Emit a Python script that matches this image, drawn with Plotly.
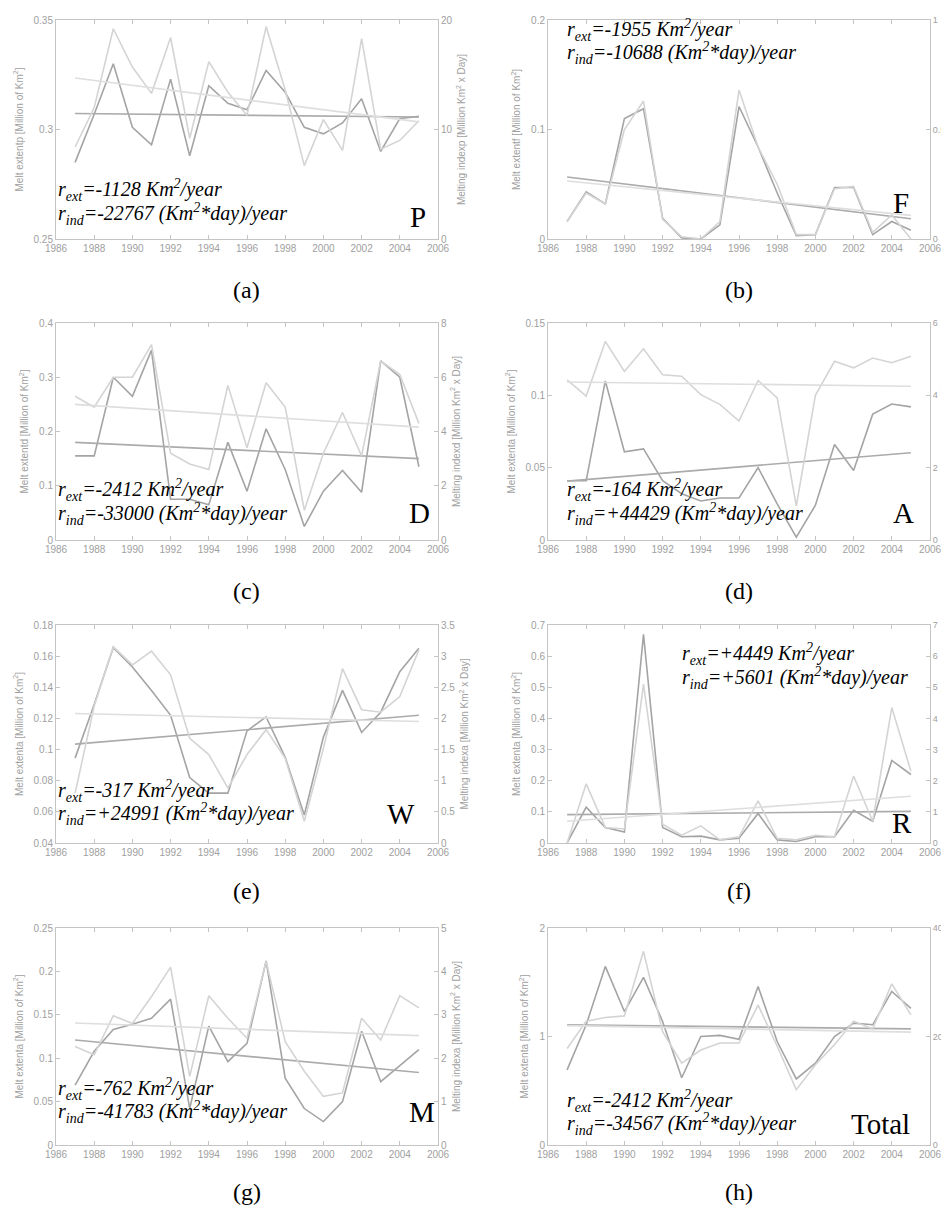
import plotly.graph_objects as go

years = list(range(1987, 2006))
trend_years = [1987, 2005]

# (a) P
ext_p = [0.285, 0.307, 0.330, 0.301, 0.293, 0.323, 0.288, 0.320, 0.312, 0.309,
         0.327, 0.317, 0.301, 0.298, 0.303, 0.314, 0.290, 0.305, 0.306]
ind_p = [8.4, 12.0, 19.2, 15.7, 13.3, 18.4, 9.2, 16.2, 13.4, 11.3,
         19.4, 13.6, 6.7, 10.9, 8.1, 18.3, 8.2, 9.0, 10.8]
trend_ext_p = [0.3073, 0.3057]
trend_ind_p = [14.7, 10.7]

# (b) F
ext_f = [0.016, 0.043, 0.032, 0.110, 0.119, 0.019, 0.001, 0.0, 0.013, 0.121,
         0.084, 0.042, 0.003, 0.004, 0.047, 0.047, 0.004, 0.016, 0.008]
ind_f = [0.08, 0.21, 0.16, 0.50, 0.63, 0.09, 0.01, 0.0, 0.08, 0.68,
         0.42, 0.25, 0.02, 0.02, 0.23, 0.24, 0.03, 0.11, 0.0]
trend_ext_f = [0.0566, 0.0185]
trend_ind_f = [0.265, 0.108]

# (c) D
ext_d = [0.155, 0.155, 0.300, 0.265, 0.350, 0.075, 0.075, 0.065, 0.180, 0.090,
         0.205, 0.130, 0.025, 0.090, 0.128, 0.088, 0.330, 0.300, 0.135]
ind_d = [5.3, 4.9, 6.0, 6.0, 7.2, 3.2, 2.8, 2.6, 5.7, 3.4,
         5.8, 4.9, 1.1, 3.2, 4.7, 3.1, 6.6, 6.1, 4.3]
trend_ext_d = [0.18, 0.15]
trend_ind_d = [5.0, 4.16]

# (d) A
ext_a = [0.041, 0.041, 0.110, 0.061, 0.063, 0.041, 0.032, 0.027, 0.029, 0.029,
         0.050, 0.025, 0.002, 0.024, 0.066, 0.048, 0.087, 0.094, 0.092]
ind_a = [4.43, 3.98, 5.49, 4.66, 5.29, 4.57, 4.53, 4.02, 3.75, 3.29,
         4.41, 3.93, 0.94, 4.0, 4.94, 4.76, 5.03, 4.9, 5.08]
trend_ext_a = [0.0407, 0.0603]
trend_ind_a = [4.37, 4.25]

# (e) W
ext_w = [0.0945, 0.129, 0.1655, 0.153, 0.138, 0.122, 0.082, 0.072, 0.072, 0.112,
         0.121, 0.095, 0.058, 0.108, 0.138, 0.111, 0.124, 0.150, 0.165]
ind_w = [0.8, 2.2, 3.15, 2.86, 3.08, 2.70, 1.68, 1.42, 0.88, 1.42,
         1.82, 1.36, 0.35, 1.52, 2.8, 2.14, 2.1, 2.35, 3.1]
trend_ext_w = [0.1035, 0.122]
trend_ind_w = [2.08, 1.95]

# (f) R
ext_r = [0.0, 0.115, 0.05, 0.035, 0.67, 0.05, 0.02, 0.022, 0.01, 0.015,
         0.095, 0.01, 0.005, 0.02, 0.02, 0.105, 0.07, 0.265, 0.22]
ind_r = [0.0, 1.9, 0.5, 0.45, 5.1, 0.6, 0.25, 0.55, 0.1, 0.2,
         1.35, 0.15, 0.1, 0.25, 0.2, 2.15, 0.7, 4.35, 2.3]
trend_ext_r = [0.091, 0.1015]
trend_ind_r = [0.7, 1.5]

# (g) M
ext_m = [0.069, 0.108, 0.133, 0.139, 0.146, 0.168, 0.042, 0.137, 0.096, 0.117,
         0.212, 0.077, 0.042, 0.027, 0.050, 0.131, 0.073, 0.092, 0.110]
ind_m = [2.27, 2.08, 2.98, 2.8, 3.42, 4.1, 1.58, 3.44, 2.92, 2.46,
         4.23, 2.38, 1.7, 1.12, 1.2, 2.92, 2.42, 3.44, 3.16]
trend_ext_m = [0.121, 0.0835]
trend_ind_m = [2.81, 2.52]

# (h) Total
ext_t = [0.692, 1.108, 1.646, 1.23, 1.545, 1.138, 0.62, 1.0, 1.01, 0.975,
         1.46, 0.954, 0.609, 0.754, 1.0, 1.123, 1.108, 1.415, 1.26]
ind_t = [17.8, 22.8, 23.5, 23.8, 35.7, 20.9, 15.1, 17.5, 18.8, 18.8,
         25.8, 18.2, 10.2, 14.8, 18.5, 22.8, 21.4, 29.7, 24.0]
trend_ext_t = [1.108, 1.07]
trend_ind_t = [22.0, 20.8]

x_ticks = list(range(1986, 2007, 2))

W, H = 949, 1205
DARK = "#a4a4a4"
LIGHT = "#d4d4d4"
AXC = "#c4c4c4"
TICKC = "#a0a0a0"
SERIF = "Times New Roman, Liberation Serif, serif"

# ty1/ty2: vertical centre of the two trend-rate lines (axis-domain fraction)
panels = [
    dict(ext=ext_p, ind=ind_p, te=trend_ext_p, ti=trend_ind_p,
         lr=[0.25, 0.35], lt=[0.25, 0.3, 0.35], rr=[0, 20], rt=[0, 10, 20], sfx="p",
         r1="-1128", r2="-22767", tx=0.0, ty1=0.222, ty2=0.115, letter="P", lx=0.975, ly=0.02, cap="(a)"),
    dict(ext=ext_f, ind=ind_f, te=trend_ext_f, ti=trend_ind_f,
         lr=[0, 0.2], lt=[0, 0.1, 0.2], rr=[0, 1], rt=[0, 0.5, 1], sfx="f",
         r1="-1955", r2="-10688", tx=0.045, ty1=0.955, ty2=0.848, letter="F", lx=0.95, ly=0.08, cap="(b)"),
    dict(ext=ext_d, ind=ind_d, te=trend_ext_d, ti=trend_ind_d,
         lr=[0, 0.4], lt=[0, 0.1, 0.2, 0.3, 0.4], rr=[0, 8], rt=[0, 2, 4, 6, 8], sfx="d",
         r1="-2412", r2="-33000", tx=0.0, ty1=0.23, ty2=0.122, letter="D", lx=0.985, ly=0.04, cap="(c)"),
    dict(ext=ext_a, ind=ind_a, te=trend_ext_a, ti=trend_ind_a,
         lr=[0, 0.15], lt=[0, 0.05, 0.1, 0.15], rr=[0, 6], rt=[0, 2, 4, 6], sfx="a",
         r1="-164", r2="+44429", tx=0.045, ty1=0.23, ty2=0.122, letter="A", lx=0.963, ly=0.04, cap="(d)"),
    dict(ext=ext_w, ind=ind_w, te=trend_ext_w, ti=trend_ind_w,
         lr=[0.04, 0.18], lt=[0.04, 0.06, 0.08, 0.1, 0.12, 0.14, 0.16, 0.18],
         rr=[0, 3.5], rt=[0, 0.5, 1, 1.5, 2, 2.5, 3, 3.5], sfx="a",
         r1="-317", r2="+24991", tx=0.0, ty1=0.24, ty2=0.133, letter="W", lx=0.945, ly=0.05, cap="(e)"),
    dict(ext=ext_r, ind=ind_r, te=trend_ext_r, ti=trend_ind_r,
         lr=[0, 0.7], lt=[0, 0.1, 0.2, 0.3, 0.4, 0.5, 0.6, 0.7],
         rr=[0, 7], rt=[0, 1, 2, 3, 4, 5, 6, 7], sfx="a",
         r1="+4449", r2="+5601", tx=0.345, ty1=0.865, ty2=0.755, letter="R", lx=0.958, ly=0.008, cap="(f)"),
    dict(ext=ext_m, ind=ind_m, te=trend_ext_m, ti=trend_ind_m,
         lr=[0, 0.25], lt=[0, 0.05, 0.1, 0.15, 0.2, 0.25], rr=[0, 5], rt=[0, 1, 2, 3, 4, 5], sfx="a",
         r1="-762", r2="-41783", tx=0.0, ty1=0.26, ty2=0.152, letter="M", lx=0.997, ly=0.07, cap="(g)"),
    dict(ext=ext_t, ind=ind_t, te=trend_ext_t, ti=trend_ind_t,
         lr=[0, 2], lt=[0, 1, 2], rr=[0, 40], rt=[0, 20, 40], sfx="a",
         r1="-2412", r2="-34567", tx=0.045, ty1=0.205, ty2=0.095, letter="Total", lx=0.953, ly=0.015, cap="(h)"),
]

# plot boxes in pixels (left, right, top, bottom)
cols = [(48, 430), (540, 922)]
rows = [(12, 231), (315, 532), (617, 835), (920, 1137)]
cap_y = [282, 583, 883, 1184]

fig = go.Figure()
layout = {}
annotations = []

for i, p in enumerate(panels):
    r, c = divmod(i, 2)
    x0, x1 = cols[c]
    y0, y1 = rows[r]
    xn = "" if i == 0 else str(i + 1)
    yl = "" if i == 0 else str(2 * i + 1)
    yr = str(2 * i + 2)
    xdom = [x0 / W, x1 / W]
    ydom = [1 - y1 / H, 1 - y0 / H]
    tfont = dict(size=10, color=TICKC, family="Arial")

    layout["xaxis" + xn] = dict(
        domain=xdom, anchor="y" + yl, range=[1986, 2006], tickvals=x_ticks,
        ticks="inside", ticklen=4, tickcolor=AXC, showline=True, linecolor=AXC,
        mirror="ticks", showgrid=False, zeroline=False, tickfont=tfont, automargin=False,
    )
    layout["yaxis" + yl] = dict(
        domain=ydom, anchor="x" + xn, range=p["lr"], tickvals=p["lt"],
        ticks="inside", ticklen=4, tickcolor=AXC, showline=True, linecolor=AXC,
        showgrid=False, zeroline=False, tickfont=tfont, automargin=False,
        title=dict(text="Melt extent%s [Million of Km<sup>2</sup>]" % p["sfx"],
                   font=dict(size=10, color=TICKC, family="Arial"), standoff=8),
    )
    layout["yaxis" + yr] = dict(
        domain=ydom, anchor="x" + xn, overlaying="y" + yl, side="right",
        range=p["rr"], tickvals=p["rt"],
        ticks="inside", ticklen=4, tickcolor=AXC, showline=True, linecolor=AXC,
        showgrid=False, zeroline=False, automargin=False,
        tickfont=dict(size=10 if c == 0 else 9, color=TICKC, family="Arial"),
        title=dict(text="Melting index%s [Million Km<sup>2</sup> x Day]" % p["sfx"],
                   font=dict(size=10, color=TICKC, family="Arial"), standoff=6),
    )

    xa = "x" + xn
    fig.add_trace(go.Scatter(x=years, y=p["ind"], xaxis=xa, yaxis="y" + yr, mode="lines",
                             line=dict(color=LIGHT, width=1.6), showlegend=False))
    fig.add_trace(go.Scatter(x=trend_years, y=p["ti"], xaxis=xa, yaxis="y" + yr, mode="lines",
                             line=dict(color="#dedede", width=1.6), showlegend=False))
    fig.add_trace(go.Scatter(x=years, y=p["ext"], xaxis=xa, yaxis="y" + yl, mode="lines",
                             line=dict(color=DARK, width=1.6), showlegend=False))
    fig.add_trace(go.Scatter(x=trend_years, y=p["te"], xaxis=xa, yaxis="y" + yl, mode="lines",
                             line=dict(color="#ababab", width=1.6), showlegend=False))

    line1 = "<i>r<sub>ext</sub>=%s Km<sup>2</sup>/year</i>" % p["r1"]
    line2 = "<i>r<sub>ind</sub>=%s (Km<sup>2</sup>*day)/year</i>" % p["r2"]
    for txt, ty in ((line1, p["ty1"]), (line2, p["ty2"])):
        annotations.append(dict(
            text=txt, xref=xa + " domain", yref="y" + yl + " domain",
            x=p["tx"], y=ty, xanchor="left", yanchor="middle", align="left",
            showarrow=False, font=dict(family=SERIF, size=20, color="black"),
        ))
    annotations.append(dict(
        text=p["letter"], xref=xa + " domain", yref="y" + yl + " domain",
        x=p["lx"], y=p["ly"], xanchor="right", yanchor="bottom",
        showarrow=False, font=dict(family=SERIF, size=29, color="black"),
    ))
    annotations.append(dict(
        text=p["cap"], xref="paper", yref="paper",
        x=((x0 + x1) / 2) / W, y=1 - cap_y[r] / H, xanchor="center", yanchor="middle",
        showarrow=False, font=dict(family=SERIF, size=24, color="black"),
    ))

fig.update_layout(
    width=W, height=H, margin=dict(l=0, r=0, t=0, b=0, autoexpand=False),
    paper_bgcolor="white", plot_bgcolor="white",
    annotations=annotations, **layout,
)

fig.write_html("out.html")
